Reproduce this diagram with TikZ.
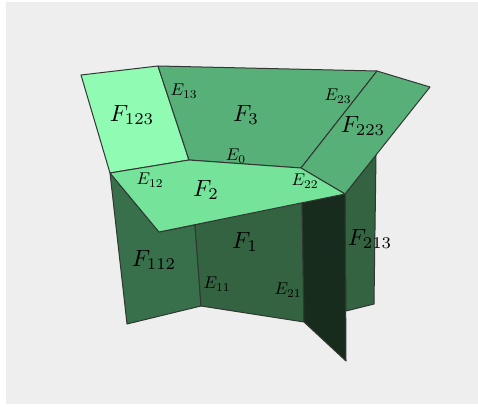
\documentclass[tikz,border=0pt]{standalone}
\usepackage{xcolor}
\definecolor{PaleBack}{RGB}{238,238,238}
\definecolor{MintLight}{RGB}{144,251,178}
\definecolor{MintTop}{RGB}{117,228,154}
\definecolor{GreenMid}{RGB}{88,176,121}
\definecolor{GreenWall}{RGB}{55,112,74}
\definecolor{GreenFront}{RGB}{51,99,64}
\definecolor{GreenDark}{RGB}{24,44,30}
\definecolor{EdgeGrey}{RGB}{50,55,52}
\begin{document}
\begin{tikzpicture}[x=1pt, y=-1pt,
      face/.style={draw=EdgeGrey, line width=1pt, line join=round},
      bigface/.style={scale=2.35, inner sep=0pt},
      edgelabel/.style={scale=1.7, inner sep=0pt}
    ]
      \useasboundingbox (0,0) rectangle (478,406);
      \fill[PaleBack] (6,2) rectangle (478,404);
      % walls
      \draw[face, fill=GreenFront] (345,194) -- (376,155) -- (374,304) -- (346,311) -- cycle;
      \draw[face, fill=GreenWall]  (110,173) -- (159,232) -- (195,225) -- (201,306) -- (127,324) -- cycle;
      \draw[face, fill=GreenFront] (195,225) -- (302,200) -- (304,322) -- (201,306) -- cycle;
      \draw[face, fill=GreenDark]  (302,200) -- (345,194) -- (346,361) -- (304,322) -- cycle;
      % top faces
      \draw[face, fill=MintLight] (81,75) -- (158,66) -- (189,160) -- (110,173) -- cycle;
      \draw[face, fill=GreenMid]  (158,66) -- (377,71) -- (301,168) -- (189,160) -- cycle;
      \draw[face, fill=GreenMid]  (377,71) -- (430,87) -- (345,194) -- (301,168) -- cycle;
      \draw[face, fill=MintTop]   (110,173) -- (189,160) -- (301,168) -- (345,194) -- (159,232) -- cycle;
      % labels
      \node[bigface] (f123) at (132,115) {$F_{123}$};
      \node[bigface] (f3)   at (246,115) {$F_3$};
      \node[bigface] (f223) at (363,126) {$F_{223}$};
      \node[bigface] (f2)   at (206,190) {$F_2$};
      \node[bigface] (f1)   at (245,242) {$F_1$};
      \node[bigface] (f112) at (154,260) {$F_{112}$};
      \node[bigface] (f213) at (370,239) {$F_{213}$};
      \node[edgelabel] (e13) at (184,91)  {$E_{13}$};
      \node[edgelabel] (e23) at (338,96)  {$E_{23}$};
      \node[edgelabel] (e0)  at (236,156) {$E_0$};
      \node[edgelabel] (e12) at (150,180) {$E_{12}$};
      \node[edgelabel] (e22) at (305,181) {$E_{22}$};
      \node[edgelabel] (e11) at (217,284) {$E_{11}$};
      \node[edgelabel] (e21) at (288,290) {$E_{21}$};
    \end{tikzpicture}
\end{document}
